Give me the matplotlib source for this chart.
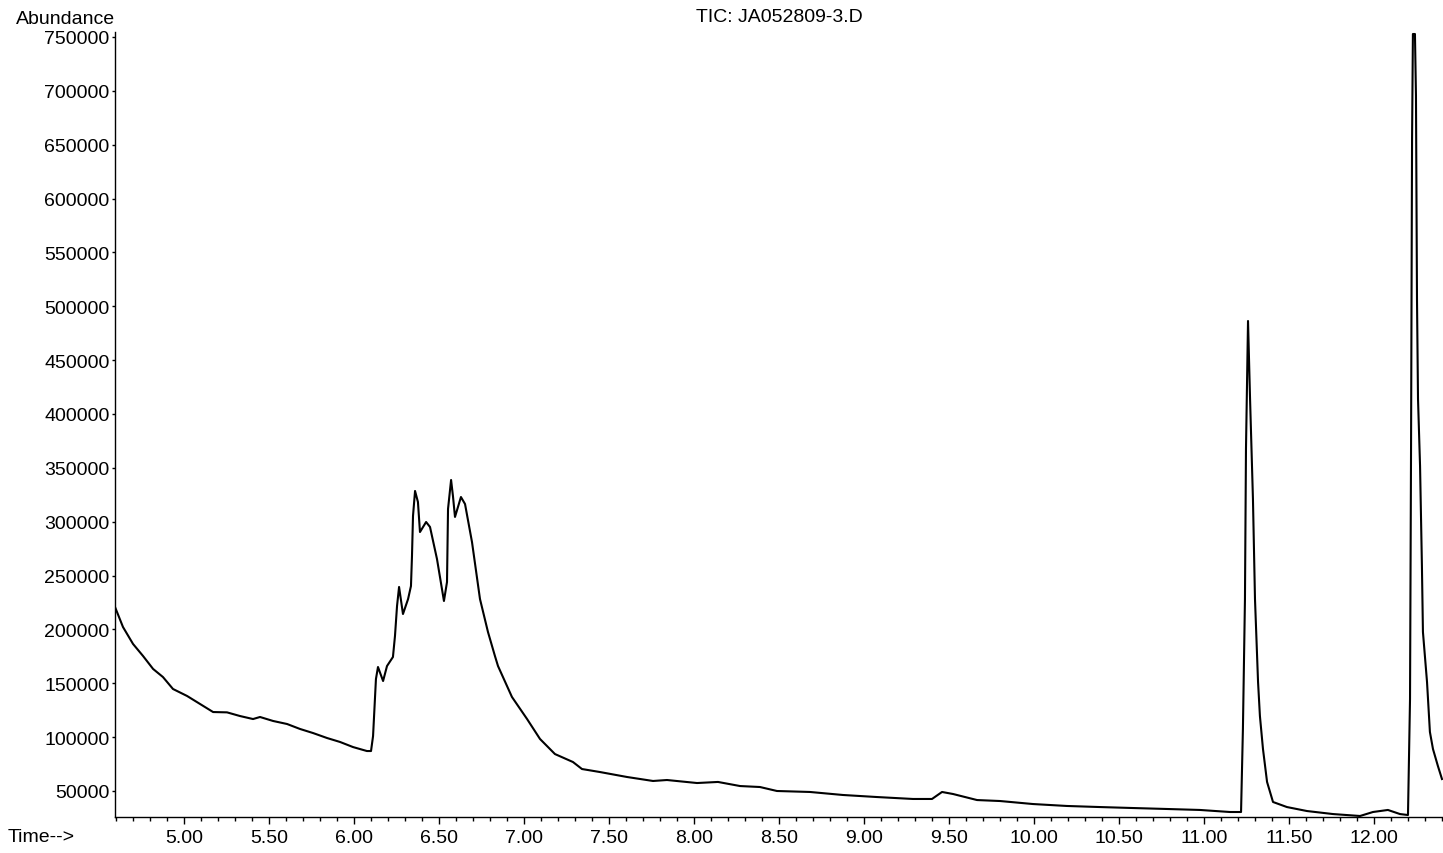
import numpy as np
import matplotlib.pyplot as plt
from matplotlib.ticker import MultipleLocator, FormatStrFormatter

plt.rcParams['font.family'] = ['Liberation Sans', 'DejaVu Sans']

# retention time (min) and abundance
time = [4.594, 4.641, 4.700, 4.759, 4.818, 4.876, 4.935, 5.018, 5.094, 5.171,
        5.253, 5.329, 5.406, 5.447, 5.524, 5.606, 5.682, 5.759, 5.841, 5.918,
        5.994, 6.076, 6.100, 6.112, 6.129, 6.141, 6.171, 6.194, 6.229, 6.241,
        6.253, 6.265, 6.288, 6.318, 6.335, 6.341, 6.347, 6.359, 6.376, 6.388,
        6.424, 6.447, 6.488, 6.529, 6.547, 6.553, 6.571, 6.582, 6.594, 6.629,
        6.653, 6.694, 6.741, 6.788, 6.829, 6.847, 6.929, 7.018, 7.094, 7.182,
        7.288, 7.341, 7.447, 7.606, 7.759, 7.841, 8.018, 8.141, 8.271, 8.388,
        8.488, 8.682, 8.876, 9.076, 9.288, 9.400, 9.459, 9.524, 9.665, 9.800,
        9.994, 10.194, 10.388, 10.582, 10.782, 10.976, 11.153, 11.218,
        11.229, 11.241, 11.247, 11.259, 11.271, 11.288, 11.300, 11.318, 11.329,
        11.347, 11.371, 11.406, 11.488, 11.606, 11.759, 11.918, 11.994, 12.082,
        12.153, 12.200,
        12.212, 12.218, 12.224, 12.229, 12.241, 12.247, 12.253, 12.259, 12.271,
        12.282, 12.288, 12.312, 12.329, 12.347, 12.376, 12.400]
abundance = [220800, 202200, 186500, 175300, 163300, 155800, 144700, 138200, 130800, 123300,
             123000, 119600, 116800, 118700, 115000, 112200, 107600, 103800, 99200, 95500,
             90800, 87100, 87100, 101000, 154000, 165100, 152100, 166000, 174400, 194000,
             221700, 239400, 214300, 228200, 240300, 268200, 305300, 328500, 318300, 290400,
             299700, 295100, 265400, 226400, 244000, 311800, 338700, 323800, 304400, 322900,
             316400, 281100, 228200, 197600, 175300, 166000, 137300, 116800, 98300, 84300,
             76900, 70400, 67600, 63000, 59300, 60200, 57400, 58400, 54600, 53700,
             50000, 49100, 46300, 44400, 42600, 42600, 49100, 47200, 41600, 40700,
             37900, 36100, 35100, 34200, 33300, 32400, 30500, 30500,
             107600, 228200, 367500, 486300, 413900, 321100, 228200, 151200, 119600,
             89000, 58400, 39800, 35100, 31400, 28600, 26800, 30500, 32400,
             28600, 27700,
             135400, 367500, 655300, 752700, 752700, 695200, 506700, 413900, 351700,
             258900, 197600, 151200, 104800, 89000, 73200, 61100]

fig = plt.figure(figsize=(14.43, 8.54), dpi=100)
ax = fig.add_axes([0.0797, 0.0422, 0.9203, 0.9192])

ax.plot(time, abundance, color='black', linewidth=1.5)

ax.set_xlim(4.594, 12.406)
ax.set_ylim(25900, 754600)

ax.xaxis.set_major_locator(MultipleLocator(0.5))
ax.xaxis.set_minor_locator(MultipleLocator(0.1))
ax.xaxis.set_major_formatter(FormatStrFormatter('%.2f'))
ax.yaxis.set_major_locator(MultipleLocator(50000))
ax.yaxis.set_major_formatter(FormatStrFormatter('%d'))

ax.tick_params(axis='x', which='major', length=5, width=1, pad=4, labelsize=14)
ax.tick_params(axis='x', which='minor', length=3, width=1)
ax.tick_params(axis='y', which='major', length=2, width=1, pad=2, labelsize=14)

for s in ['top', 'right']:
    ax.spines[s].set_visible(False)
ax.spines['left'].set_linestyle((0, (3, 1, 1, 1)))
ax.spines['bottom'].set_linestyle((0, (4, 1, 1, 1)))
ax.spines['left'].set_linewidth(1)
ax.spines['bottom'].set_linewidth(1)

fig.text(115 / 1443, 1 - 20 / 854, 'Abundance', ha='right', va='center', fontsize=14)
fig.text(779 / 1443, 1 - 18 / 854, 'TIC: JA052809-3.D', ha='center', va='center', fontsize=14)
fig.text(8 / 1443, 1 - 838 / 854, 'Time-->', ha='left', va='center', fontsize=14)

fig.savefig('out.png', dpi=100)
